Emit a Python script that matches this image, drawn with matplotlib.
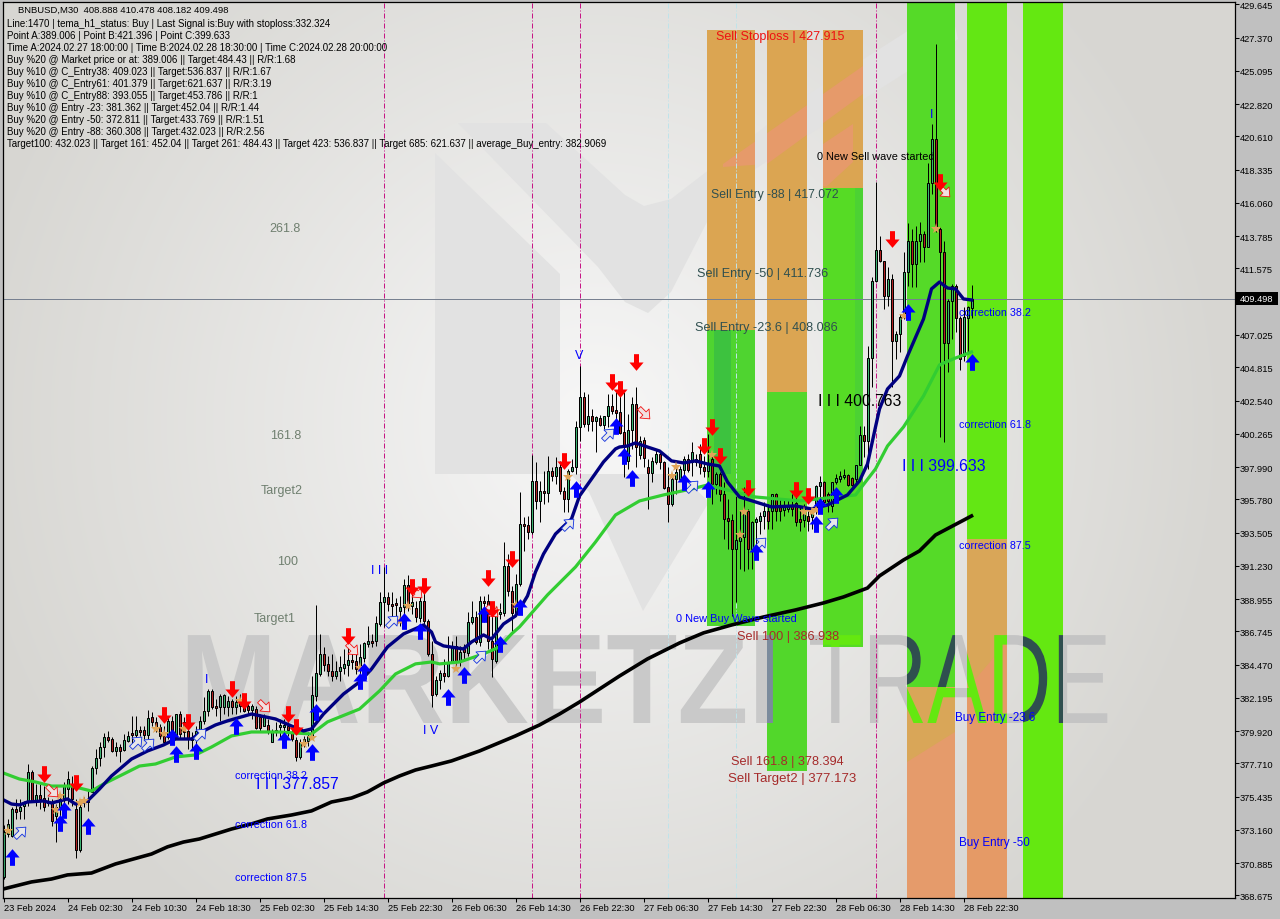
import numpy as np
import matplotlib
matplotlib.use("Agg")
import matplotlib.pyplot as plt
import matplotlib.patheffects as pe
from matplotlib.patches import Polygon, Rectangle
from matplotlib.path import Path
from matplotlib.transforms import Affine2D

plt.rcParams['font.family'] = ['Liberation Sans', 'DejaVu Sans']

# --- candles, one value per M30 bar ---
opens = [369.94, 372.88, 372.74, 374.59, 374.46, 374.8, 375.14, 377.12, 375.14, 375.55,
         375.35, 375.0, 375.07, 374.11, 374.73, 375.28, 375.96, 376.16, 374.59, 371.78,
         375.21, 375.07, 375.75, 377.4, 378.08, 378.83, 379.52, 379.38, 378.56, 378.83,
         378.63, 379.24, 379.79, 379.66, 380.0, 380.0, 379.66, 380.89, 380.55, 380.2,
         379.59, 379.52, 380.62, 379.52, 381.09, 380.55, 379.93, 379.31, 379.38, 379.93,
         380.62, 381.3, 382.67, 381.64, 381.57, 381.57, 381.57, 381.98, 381.57, 381.91,
         381.78, 381.64, 381.37, 381.43, 380.89, 380.27, 380.34, 379.18, 380.0, 380.2,
         380.2, 380.27, 379.86, 379.31, 378.15, 379.18, 379.24, 379.59, 382.32, 383.83,
         385.2, 384.52, 384.03, 383.69, 384.03, 384.24, 384.45, 384.79, 384.72, 384.38,
         384.92, 385.88, 386.09, 386.09, 387.25, 388.76, 389.1, 388.62, 388.69, 388.14,
         388.41, 389.92, 388.48, 388.35, 387.66, 388.83, 387.46, 385.2, 382.46, 383.42,
         383.9, 383.69, 384.65, 385.75, 384.65, 385.54, 385.27, 387.39, 387.73, 386.02,
         388.83, 388.83, 386.09, 384.72, 387.94, 388.0, 391.22, 389.51, 387.94, 390.0,
         394.09, 394.02, 393.55, 397.04, 395.67, 396.35, 396.22, 397.72, 397.38, 398.0,
         396.35, 395.81, 397.72, 398.0, 400.73, 402.79, 400.94, 401.49, 401.14, 401.35,
         400.87, 401.49, 402.17, 401.89, 401.76, 400.39, 398.41, 400.53, 402.31, 398.82,
         399.84, 398.0, 397.58, 398.34, 398.88, 398.34, 396.63, 395.46, 397.17, 397.17,
         397.79, 398.54, 398.34, 398.54, 398.88, 398.0, 397.72, 398.54, 396.83, 397.52,
         396.15, 394.5, 394.37, 392.38, 392.93, 393.2, 394.99, 392.38, 394.23, 394.3,
         394.64, 394.99, 394.99, 396.15, 395.33, 395.05, 395.12, 395.33, 395.53, 394.44,
         394.37, 394.64, 394.57, 395.12, 396.69, 396.97, 396.15, 395.33, 396.97, 397.17,
         397.31, 397.45, 397.24, 397.17, 398.13, 400.18, 399.77, 405.45, 410.72, 412.84,
         412.09, 409.69, 410.86, 406.62, 407.1, 408.26, 411.34, 413.46, 411.89, 413.46,
         413.94, 413.05, 417.43, 420.44, 414.28, 412.71, 406.48, 409.35, 410.38, 408.19,
         405.59, 408.19, 408.888]
highs = [373.5, 373.91, 374.73, 375.28, 375.28, 375.14, 377.67, 377.26, 376.3, 376.3,
         376.16, 375.41, 375.28, 374.93, 375.48, 376.44, 377.19, 376.85, 375.28, 375.14,
         375.41, 375.82, 377.53, 378.7, 379.17, 379.79, 379.93, 379.52, 379.18, 379.04,
         379.72, 379.93, 380.96, 380.96, 380.27, 380.27, 381.37, 381.23, 380.89, 380.41,
         380.27, 380.96, 380.96, 381.09, 381.3, 380.89, 380.55, 379.86, 380.27, 380.96,
         382.26, 382.8, 382.8, 382.12, 382.46, 382.46, 382.32, 382.12, 382.32, 382.46,
         382.32, 381.91, 381.78, 381.64, 381.09, 381.09, 380.75, 380.07, 380.55, 380.75,
         380.75, 380.55, 380.2, 379.52, 379.38, 379.59, 379.86, 383.69, 388.55, 386.57,
         385.68, 385.06, 385.2, 384.72, 385.06, 385.54, 385.88, 385.34, 385.54, 385.88,
         386.02, 387.11, 386.57, 387.8, 389.44, 391.15, 389.44, 389.44, 389.03, 389.17,
         390.33, 390.6, 389.65, 388.83, 389.44, 389.37, 387.6, 386.09, 383.69, 384.1,
         384.86, 386.43, 386.09, 386.43, 385.75, 385.88, 388.07, 388.83, 388.14, 389.17,
         389.17, 389.31, 388.48, 388.48, 388.69, 392.86, 392.04, 389.85, 390.67, 396.28,
         394.57, 394.64, 398.82, 398.34, 397.04, 397.72, 398.75, 398.0, 398.68, 398.41,
         396.63, 397.86, 398.54, 401.14, 404.91, 403.13, 403.0, 401.96, 401.49, 401.55,
         401.49, 403.0, 403.0, 403.13, 403.13, 403.13, 401.62, 402.79, 403.47, 400.12,
         400.05, 398.54, 398.68, 399.23, 399.09, 398.41, 398.0, 397.38, 397.99, 398.07,
         398.75, 398.88, 399.71, 398.88, 399.57, 398.75, 400.25, 399.02, 397.65, 397.65,
         396.97, 395.81, 394.78, 396.0, 395.0, 396.6, 395.12, 394.3, 394.57, 394.91,
         395.6, 395.46, 396.15, 396.22, 395.81, 395.81, 395.81, 396.15, 396.15, 395.33,
         395.46, 394.99, 395.12, 396.76, 397.38, 397.04, 396.28, 396.97, 397.52, 397.72,
         397.86, 397.52, 397.31, 398.13, 400.8, 400.8, 406.27, 411.0, 417.5, 413.8,
         412.09, 411.68, 411.2, 407.3, 408.46, 412.71, 414.69, 414.28, 414.49, 414.76,
         414.14, 418.8, 421.47, 426.94, 414.42, 413.46, 409.49, 410.52, 410.52, 408.33,
         408.94, 409.0, 410.478]
lows = [369.8, 372.67, 372.67, 373.91, 373.91, 373.91, 374.8, 375.07, 374.8, 374.59,
        374.46, 374.8, 373.43, 372.33, 373.43, 374.8, 374.93, 374.8, 371.24, 371.65,
        374.73, 374.46, 375.75, 376.98, 377.53, 378.15, 379.18, 378.49, 378.22, 377.8,
        378.56, 379.18, 378.9, 379.38, 379.59, 379.38, 379.38, 380.27, 379.86, 379.38,
        379.18, 379.38, 379.24, 379.38, 379.38, 379.38, 378.7, 378.7, 378.83, 379.73,
        380.41, 380.96, 381.43, 380.96, 380.62, 381.09, 380.96, 381.09, 381.09, 381.23,
        381.23, 381.09, 380.75, 380.06, 379.93, 380.27, 379.73, 379.18, 379.59, 379.38,
        379.86, 379.59, 379.24, 377.88, 378.02, 378.83, 378.9, 379.52, 381.98, 383.69,
        384.03, 383.69, 383.35, 383.49, 383.35, 383.83, 383.69, 384.17, 383.83, 383.49,
        384.65, 385.68, 385.68, 385.75, 387.11, 387.05, 388.14, 387.73, 387.6, 387.11,
        387.05, 388.14, 387.94, 387.39, 387.39, 387.25, 385.06, 381.57, 382.32, 382.8,
        383.28, 383.62, 384.58, 384.38, 384.38, 384.86, 385.06, 387.25, 385.88, 385.75,
        387.39, 385.54, 383.62, 384.58, 387.6, 387.8, 389.17, 386.7, 387.8, 389.85,
        392.25, 393.07, 393.41, 395.12, 394.23, 395.46, 395.6, 397.04, 396.83, 396.15,
        394.91, 394.91, 397.65, 397.52, 399.77, 400.73, 400.46, 400.46, 399.02, 400.8,
        400.6, 400.73, 401.62, 401.28, 400.25, 397.31, 397.86, 399.23, 398.0, 398.54,
        398.0, 395.12, 396.97, 398.2, 397.86, 396.49, 394.23, 395.33, 396.15, 397.04,
        397.31, 397.65, 397.38, 398.06, 397.52, 397.31, 397.31, 395.46, 396.15, 395.67,
        393.07, 392.38, 387.8, 388.76, 391.0, 390.88, 391.0, 391.0, 392.38, 393.41,
        393.75, 393.75, 393.75, 394.3, 394.3, 394.64, 394.91, 394.64, 393.96, 393.61,
        393.89, 393.61, 393.75, 394.78, 395.6, 395.33, 394.91, 394.91, 396.83, 396.97,
        397.17, 396.69, 396.69, 396.83, 398.13, 398.68, 397.86, 403.47, 410.65, 412.02,
        408.81, 409.0, 403.47, 405.38, 405.86, 408.12, 410.38, 410.31, 410.31, 412.02,
        412.02, 413.05, 416.68, 414.08, 400.05, 399.71, 404.5, 406.75, 407.24, 404.63,
        405.25, 405.73, 408.182]
closes = [373.02, 373.56, 374.59, 374.38, 374.73, 375.07, 377.12, 375.14, 375.55, 375.28,
          374.73, 375.07, 373.77, 374.73, 375.28, 376.16, 376.64, 375.28, 371.78, 374.73,
          375.07, 375.14, 377.4, 378.08, 378.83, 379.52, 379.31, 378.56, 378.83, 378.56,
          379.31, 379.59, 379.66, 380.0, 379.86, 379.66, 380.82, 380.55, 380.2, 379.59,
          379.18, 380.62, 379.52, 381.09, 379.73, 379.86, 379.38, 379.38, 379.93, 380.62,
          381.3, 382.67, 381.57, 381.5, 382.32, 382.39, 381.98, 381.57, 381.91, 381.64,
          381.3, 381.37, 381.64, 380.13, 380.13, 380.89, 379.93, 379.93, 379.86, 380.34,
          380.34, 380.0, 379.38, 378.15, 379.18, 379.38, 379.59, 382.39, 383.9, 385.2,
          384.45, 384.03, 383.69, 384.03, 384.31, 384.52, 384.79, 384.65, 384.17, 384.99,
          385.95, 386.09, 385.95, 387.32, 388.76, 389.1, 388.62, 388.48, 388.55, 388.41,
          389.92, 388.41, 388.76, 387.73, 388.83, 387.46, 385.2, 382.39, 383.42, 383.9,
          383.69, 384.65, 385.68, 384.65, 385.34, 385.34, 387.39, 387.73, 386.02, 388.83,
          388.69, 386.09, 384.86, 387.94, 388.07, 391.22, 389.51, 388.0, 390.0, 394.09,
          393.96, 393.55, 397.04, 395.67, 396.35, 396.22, 397.72, 397.38, 398.0, 396.35,
          395.81, 397.72, 398.0, 400.73, 402.79, 400.94, 401.49, 401.14, 401.42, 400.87,
          401.49, 402.17, 401.83, 401.69, 400.32, 399.36, 400.53, 402.31, 399.36, 399.78,
          398.61, 397.58, 398.41, 398.88, 398.34, 396.56, 395.46, 397.17, 397.65, 397.86,
          398.54, 397.79, 399.02, 398.34, 398.0, 397.72, 398.2, 396.83, 397.52, 396.15,
          394.44, 394.3, 392.38, 393.0, 393.2, 394.85, 392.38, 394.23, 394.44, 394.64,
          394.99, 394.3, 396.15, 394.99, 394.99, 395.33, 395.33, 395.12, 394.23, 394.23,
          395.26, 394.3, 394.91, 396.69, 396.97, 395.6, 395.67, 396.97, 397.24, 397.38,
          397.45, 396.76, 396.76, 398.13, 400.18, 399.77, 405.45, 410.72, 412.84, 412.09,
          409.69, 410.86, 406.62, 407.1, 408.26, 411.34, 413.46, 411.89, 413.46, 413.94,
          413.05, 417.43, 420.44, 414.49, 412.71, 406.48, 409.35, 410.38, 408.19, 405.38,
          408.26, 408.94, 409.498]

# --- moving averages ---
navy_bars = [0, 2, 4, 6, 10, 12, 16, 18, 21, 24, 27, 32, 36, 40, 43, 47, 50, 53, 56, 62, 68, 72, 75, 77,
             80, 85, 89, 92, 96, 100, 104, 105, 107, 108, 110, 115, 117, 120, 122, 125, 128, 131, 133,
             135, 138, 142, 144, 147, 150, 153, 154, 156, 158, 161, 164, 167, 170, 173, 176, 179, 181,
             184, 188, 192, 198, 202, 206, 211, 214, 216, 218, 219, 221, 224, 226, 230, 232, 234, 236,
             238, 240, 242]
navy_vals = [375.21, 374.93, 374.87, 375.07, 375.14, 375.0, 375.28, 374.93, 375.14, 375.96, 376.85,
             378.01, 378.56, 378.97, 379.38, 379.38, 379.93, 380.34, 380.62, 381.09, 380.75, 380.27,
             379.93, 380.07, 381.09, 382.46, 383.28, 384.17, 385.68, 386.57, 387.05, 387.18, 386.7,
             386.02, 385.75, 385.54, 386.02, 386.5, 386.22, 387.25, 387.8, 389.17, 390.81, 392.04,
             393.41, 394.44, 396.01, 397.17, 398.34, 399.23, 399.36, 399.43, 399.64, 399.36, 399.09,
             398.41, 398.27, 398.41, 398.2, 398.06, 396.97, 395.94, 395.6, 395.26, 395.33, 395.12,
             395.39, 396.08, 397.04, 398.2, 400.73, 401.96, 403.33, 404.22, 405.59, 408.12, 410.18,
             410.65, 410.24, 410.18, 409.49, 409.42]
lime_bars = [0, 4, 8, 12, 17, 22, 25, 30, 34, 38, 43, 48, 52, 57, 62, 69, 77, 81, 89, 94, 98, 103, 107,
             109, 114, 120, 124, 127, 129, 136, 143, 148, 153, 159, 165, 172, 176, 183,
             188, 199, 213, 218, 221, 225, 230, 234, 238, 242]
lime_vals = [377.05, 376.64, 376.44, 376.16, 376.16, 375.82, 376.3, 376.98, 377.53, 377.67, 378.15,
             378.29, 378.83, 379.59, 379.86, 379.86, 379.72, 380.55, 381.43, 382.67, 383.83, 384.52,
             384.65, 384.52, 384.65, 385.2, 385.68, 386.57, 387.05, 389.24, 391.15, 392.86, 394.71,
             395.67, 396.08, 396.49, 396.76, 396.28, 395.94, 395.67, 396.08,
             397.86, 399.43, 400.73, 402.85, 404.98, 405.45, 405.86]
black_bars = [0, 7, 12, 16, 22, 28, 37, 41, 45, 49, 57, 62, 66, 72, 77, 82, 87, 91, 95, 99, 103, 107, 112,
              119, 128, 134, 139, 144, 149, 154, 161, 169, 175, 182, 190, 198, 205, 210, 216, 219, 225,
              229, 233, 242]
black_vals = [369.12, 369.6, 369.8, 370.08, 370.21, 370.83, 371.51, 372.0, 372.33, 372.54, 373.22, 373.57,
              373.91, 374.18, 374.46, 375.07, 375.34, 375.76, 376.37, 376.85, 377.26, 377.53, 377.88,
              378.56, 379.59, 380.34, 381.09, 381.91, 382.8, 383.69, 384.86, 385.95, 386.64, 387.18,
              387.73, 388.21, 388.69, 389.1, 389.71, 390.54, 391.63, 392.25, 393.34, 394.64]

# --- signals ---
sell_bars = [10, 18, 40, 46, 57, 60, 71, 73, 86, 102, 105, 121, 122, 127, 140, 152, 154, 158, 175, 177,
             179, 186, 198, 201, 222, 234]
sell_vals = [376.99, 376.37, 381.02, 380.55, 382.8, 381.98, 381.09, 380.2, 386.43, 389.78, 389.85, 390.4,
             388.28, 391.7, 398.4, 403.81, 403.33, 405.18, 399.43, 400.73, 398.75, 396.56, 396.42,
             396.01, 413.6, 417.5]
buy_bars = [2, 14, 15, 21, 42, 43, 48, 58, 70, 77, 78, 89, 90, 100, 104, 111, 115, 120, 124, 129, 143,
            153, 155, 157, 170, 176, 188, 203, 204, 208, 226, 242]
buy_vals = [371.31, 373.63, 374.52, 373.43, 379.52, 378.36, 378.56, 380.27, 379.31, 378.49, 381.23,
            383.35, 384.03, 387.46, 386.77, 382.26, 383.76, 387.94, 385.88, 388.41, 396.49, 400.8,
            398.75, 397.24, 396.97, 396.49, 392.18, 394.09, 395.33, 396.08, 408.6, 405.18]
open_buy_bars = [4, 33, 36, 49, 97, 119, 141, 151, 172, 189, 207]
open_buy_vals = [373.02, 379.18, 379.04, 379.72, 387.46, 385.06, 394.09, 400.25, 396.69, 392.79, 394.16]
open_sell_bars = [12, 65, 87, 103, 122, 160, 235]
open_sell_vals = [375.82, 381.64, 385.54, 389.44, 388.14, 401.69, 416.88]
star_bars = [1, 13, 14, 19, 20, 38, 40, 45, 59, 75, 77, 89, 99, 101, 113, 123, 128, 141, 167, 168, 177,
             184, 185, 200, 202, 203, 225, 233]
star_vals = [373.09, 374.52, 375.48, 375.0, 375.14, 380.07, 379.72, 380.07, 381.98, 379.04, 379.45, 384.24,
             387.46, 388.48, 384.17, 388.14, 388.55, 397.31, 397.38, 397.99, 398.82, 393.34, 394.91,
             394.91, 394.91, 395.05, 408.33, 414.28]

# --- zones: start bar, end bar, top price, split price, bottom price, colours ---
zone_start = [175.9, 190.9, 204.9, 225.9, 240.9, 254.9]
zone_end = [187.9, 200.9, 214.9, 237.9, 250.9, 264.9]
zone_top = [427.915, 427.915, 427.915, 429.9, 429.9, 429.9]
zone_split = [407.4, 403.1, 417.072, 382.9069, 393.055, 368.4]
zone_bottom = [387.1, 377.173, 385.7, 368.4, 368.4, 368.4]
zone_upper = ['#dba552', '#dba552', '#dba552', '#55da28', '#63e714', '#64e811']
zone_lower = ['#4fd430', '#52d72b', '#56db25', '#e59b6b', '#e59a66', '#64e811']

# --- axis ---
price_ticks = [429.645, 427.37, 425.095, 422.82, 420.61, 418.335, 416.06, 413.785, 411.575, 407.025,
               404.815, 402.54, 400.265, 397.99, 395.78, 393.505, 391.23, 388.955, 386.745, 384.47,
               382.195, 379.92, 377.71, 375.435, 373.16, 370.885, 368.675]
time_ticks = [0, 16, 32, 48, 64, 80, 96, 112, 128, 144, 160, 176, 192, 208, 224, 240]
time_labels = ['23 Feb 2024', '24 Feb 02:30', '24 Feb 10:30', '24 Feb 18:30', '25 Feb 02:30', '25 Feb 14:30',
               '25 Feb 22:30', '26 Feb 06:30', '26 Feb 14:30', '26 Feb 22:30', '27 Feb 06:30', '27 Feb 14:30',
               '27 Feb 22:30', '28 Feb 06:30', '28 Feb 14:30', '28 Feb 22:30']
wave_magenta = [95, 132, 144, 218]
wave_blue = [166, 183]
last_price = 409.498

info_lines = ['Line:1470 | tema_h1_status: Buy | Last Signal is:Buy with stoploss:332.324',
              'Point A:389.006 | Point B:421.396 | Point C:399.633',
              'Time A:2024.02.27 18:00:00 | Time B:2024.02.28 18:30:00 | Time C:2024.02.28 20:00:00',
              'Buy %20 @ Market price or at: 389.006 || Target:484.43 || R/R:1.68',
              'Buy %10 @ C_Entry38: 409.023 || Target:536.837 || R/R:1.67',
              'Buy %10 @ C_Entry61: 401.379 || Target:621.637 || R/R:3.19',
              'Buy %10 @ C_Entry88: 393.055 || Target:453.786 || R/R:1',
              'Buy %10 @ Entry -23: 381.362 || Target:452.04 || R/R:1.44',
              'Buy %20 @ Entry -50: 372.811 || Target:433.769 || R/R:1.51',
              'Buy %20 @ Entry -88: 360.308 || Target:432.023 || R/R:2.56',
              'Target100: 432.023 || Target 161: 452.04 || Target 261: 484.43 || Target 423: 536.837 || '
              'Target 685: 621.637 || average_Buy_entry: 382.9069']

fig = plt.figure(figsize=(12.8, 9.2), dpi=100, facecolor='#c0c0c0')
ax = fig.add_axes([3 / 1280, 1 - 899 / 920, 1232 / 1280, 896 / 920])
x_range = (-0.125, 307.875)
y_range = (368.5, 429.81)

# pixel coordinates of the picture, for the decoration and the labels
pix = Affine2D().scale(1, -1).translate(0, 920)


class StretchX(pe.AbstractPathEffect):
    # squeeze the watermark letters sideways
    def __init__(self, sx, x0):
        super().__init__()
        self.sx = sx
        self.x0 = x0

    def draw_path(self, renderer, gc, tpath, affine, rgbFace=None):
        squeeze = Affine2D().translate(-self.x0, 0).scale(self.sx, 1).translate(self.x0, 0)
        renderer.draw_path(gc, tpath, affine + squeeze, rgbFace)


def label(x, y, s, color, size, ha='center', **kw):
    return ax.text(x, y, s, color=color, fontsize=size, ha=ha, va='center', transform=pix,
                   zorder=20, **kw)


# --- background ---
yy, xx = np.mgrid[0:896, 0:1232]
dist = np.sqrt(((xx - 590) / 640.0) ** 2 + ((yy - 420) / 640.0) ** 2)
t = np.clip(dist, 0, 1)[..., None]
bg = (1 - t) * np.array([247, 247, 247]) + t * np.array([215, 214, 210])
ax.imshow(bg.astype(np.uint8), extent=(x_range[0], x_range[1], y_range[0], y_range[1]), aspect='auto', zorder=0,
          interpolation='bilinear')
ax.set_xlim(x_range)
ax.set_ylim(y_range)

logo_gray = [
    [(435, 154), (435, 475), (560, 475), (560, 275)],
    [(458, 124), (546, 124), (625, 196), (644, 207), (671, 200), (801, 100), (950, 5), (958, 40), (724, 190),
     (671, 293), (648, 314), (625, 303), (598, 268)],
    [(589, 493), (643, 612), (709, 503), (680, 475), (570, 475)],
]
for shape in logo_gray:
    ax.add_patch(Polygon(shape, transform=pix, facecolor='#e2e2e2', edgecolor='none', zorder=1))

mark_y = 691
mark_left = label(180, mark_y, 'MARKETZI', '#c9c9c9', 92, ha='left', fontweight='bold')
mark_left.set_zorder(2)
mark_left.set_path_effects([StretchX(0.91, 180)])
mark_right = label(808, mark_y, 'TRADE', '#c4c4c4', 92, ha='left')
mark_right.set_zorder(2)
mark_right.set_path_effects([StretchX(0.70, 808)])

# --- zones ---
zone_rects = []
for i in range(len(zone_start)):
    width = zone_end[i] - zone_start[i]
    top = Rectangle((zone_start[i], zone_split[i]), width, zone_top[i] - zone_split[i],
                    facecolor=zone_upper[i], edgecolor='none', zorder=3)
    low = Rectangle((zone_start[i], zone_bottom[i]), width, zone_split[i] - zone_bottom[i],
                    facecolor=zone_lower[i], edgecolor='none', zorder=3)
    ax.add_patch(top)
    ax.add_patch(low)
    zone_rects.append((top, low))

# darker and paler parts where the zone crosses the logo
ax.add_patch(Rectangle((177.7, 397.5), 4.2, 407.4 - 397.5, facecolor='#3dc23f', edgecolor='none', zorder=3.1))
ax.add_patch(Rectangle((212.9, 397.5), 2, 417.072 - 397.5, facecolor='#4cd233', edgecolor='none', zorder=3.1))
salmon_parts = [[(723, 165), (863, 67), (863, 95), (767, 165), (723, 168)],
                [(827, 187), (853, 163), (853, 125), (823, 145), (823, 187)]]
for rect in (zone_rects[0][0], zone_rects[1][0], zone_rects[2][0]):
    for part in salmon_parts:
        strip = Polygon(part, transform=pix, facecolor='#e69a6a', edgecolor='none', zorder=3.2)
        ax.add_patch(strip)
        strip.set_clip_path(rect)
for shape in ([(907, 688), (955, 688), (955, 733), (907, 763)], [(967, 540), (1007, 540), (1007, 643), (967, 690)]):
    ax.add_patch(Polygon(shape, transform=pix, facecolor='#d9a658', edgecolor='none', zorder=3.2))

# letters seen through the zones
through = [(mark_left, zone_rects[1][1], '#7b8b9c', 0.91, 180),
           (mark_right, zone_rects[2][1], '#64e810', 0.70, 808),
           (mark_right, zone_rects[3][0], '#2f4f4f', 0.70, 808),
           (mark_right, zone_rects[3][1], '#64e810', 0.70, 808),
           (mark_right, zone_rects[4][1], '#64e810', 0.70, 808),
           (mark_right, zone_rects[5][0], '#2f4f4f', 0.70, 808)]
for src, rect, col, sx, x0 in through:
    piece = ax.text(x0, mark_y, src.get_text(), color=col, fontsize=92, ha='left', va='center', transform=pix,
                    fontweight=src.get_fontweight(), zorder=3.5)
    piece.set_path_effects([StretchX(sx, x0)])
    piece.set_clip_on(True)
    piece.set_clip_path(rect)

# --- period lines ---
for b in wave_magenta:
    ax.axvline(b, color='#c71585', lw=0.72, ls=(0, (5, 2, 1, 2)), zorder=4)
for b in wave_blue:
    ax.axvline(b, color='#bfe3ea', lw=0.72, ls=(0, (5, 2, 1, 2)), zorder=4)
ax.axhline(last_price, color='#778090', lw=0.72, zorder=4)

# --- averages and candles ---
ax.plot(black_bars, black_vals, color='black', lw=2.6, zorder=5, solid_joinstyle='round')

bars = np.arange(len(closes))
o = np.array(opens)
c = np.array(closes)
body_col = np.where(c >= o, '#3cb371', '#b22222')
ax.vlines(bars, lows, highs, color='black', lw=0.72, zorder=6)
ax.bar(bars, np.maximum(np.abs(c - o), 0.02), bottom=np.minimum(o, c), width=0.5, color=body_col,
       edgecolor='black', linewidth=0.72, zorder=7)

ax.plot(lime_bars, lime_vals, color='#32cd32', lw=2.3, zorder=8, solid_joinstyle='round')
ax.plot(navy_bars, navy_vals, color='#000080', lw=2.4, zorder=9, solid_joinstyle='round')

# --- signal markers ---
up_arrow = Path([(-0.3, -1), (0.3, -1), (0.3, 0.0), (0.85, 0.0), (0, 1), (-0.85, 0.0), (-0.3, 0.0),
                 (-0.3, -1)], closed=True)
down_arrow = up_arrow.transformed(Affine2D().rotate_deg(180))
ne_arrow = up_arrow.transformed(Affine2D().rotate_deg(-45))
se_arrow = up_arrow.transformed(Affine2D().rotate_deg(-135))

ax.plot(star_bars, star_vals, ls='none', marker='*', ms=8, color='#e0a458', mew=0, zorder=10)
ax.plot(open_buy_bars, open_buy_vals, ls='none', marker=ne_arrow, ms=10, mfc='#e8e8e8', mec='#1030e0', mew=0.6,
        zorder=10)
ax.plot(open_sell_bars, open_sell_vals, ls='none', marker=se_arrow, ms=10, mfc='#f0e0e0', mec='#f01010', mew=0.6,
        zorder=10)
ax.plot(buy_bars, buy_vals, ls='none', marker=up_arrow, ms=12, color='#0000ff', mew=0, zorder=11)
ax.plot(sell_bars, sell_vals, ls='none', marker=down_arrow, ms=12, color='#ff0000', mew=0, zorder=11)

# --- labels ---
for x, y, s in [(285, 229, '261.8'), (286, 436, '161.8'), (282, 491, 'Target2'), (288, 562, '100'), (275, 619, 'Target1')]:
    label(x, y, s, '#6f7f6f', 9)
for x, y, s in [(271, 776, 'correction 38.2'), (271, 825, 'correction 61.8'), (271, 878, 'correction 87.5'),
                (995, 313, 'correction 38.2'), (995, 425, 'correction 61.8'), (995, 546, 'correction 87.5')]:
    label(x, y, s, '#0000ff', 7.75)
for x, y, s in [(995, 718, 'Buy Entry -23.6'), (994, 843, 'Buy Entry -50')]:
    label(x, y, s, '#0000ff', 8.4)
label(736, 619, '0 New Buy Wave started', '#0000ff', 7.95)
label(788, 637, 'Sell 100 | 386.938', '#a52a2a', 9.2)
label(787, 762, 'Sell 161.8 | 378.394', '#a52a2a', 9.2)
label(792, 779, 'Sell Target2 | 377.173', '#a52a2a', 9.5)
label(780, 37, 'Sell Stoploss | 427.915', '#ee1111', 9)
label(775, 195, 'Sell Entry -88 | 417.072', '#2f4f4f', 8.8)
label(763, 274, 'Sell Entry -50 | 411.736', '#2f4f4f', 9.1)
label(766, 328, 'Sell Entry -23.6 | 408.086', '#2f4f4f', 9.1)
label(876, 157, '0 New Sell wave started', 'black', 7.8)
label(860, 402, 'I I I 400.763', 'black', 11.3)
label(944, 467, 'I I I 399.633', '#0000ff', 11.3)
label(297, 785, 'I I I 377.857', '#0000ff', 11.3)
label(207, 680, 'I', '#0000ff', 9)
label(380, 571, 'I I I', '#0000ff', 9)
label(431, 731, 'I V', '#0000ff', 9)
label(579, 356, 'V', '#0000ff', 9)
label(932, 115, 'I', '#0000ff', 9)

label(18, 10.5, 'BNBUSD,M30  408.888 410.478 408.182 409.498', 'black', 6.8, ha='left')
for n, line in enumerate(info_lines):
    label(7, 24 + 11.97 * n, line, 'black', 7.05, ha='left')

# --- axes ---
ax.yaxis.tick_right()
ax.set_yticks(price_ticks)
ax.set_yticklabels([f'{v:.3f}' for v in price_ticks])
ax.set_xticks(time_ticks)
ax.set_xticklabels(time_labels, ha='left')
ax.tick_params(axis='y', length=3, width=0.75, pad=0.5, labelsize=6.7, colors='black')
ax.tick_params(axis='x', length=3, width=0.75, pad=0.5, labelsize=6.7, colors='black')
for side in ax.spines.values():
    side.set_linewidth(0.9)
    side.set_zorder(30)

ax.add_patch(Rectangle((1236, 293), 42, 13, transform=pix, facecolor='black', edgecolor='none', clip_on=False, zorder=40))
ax.text(1257, 299.5, f'{last_price:.3f}', color='white', fontsize=6.7, ha='center', va='center', transform=pix,
        clip_on=False, zorder=41)

fig.savefig('out.png', dpi=100, facecolor=fig.get_facecolor())
